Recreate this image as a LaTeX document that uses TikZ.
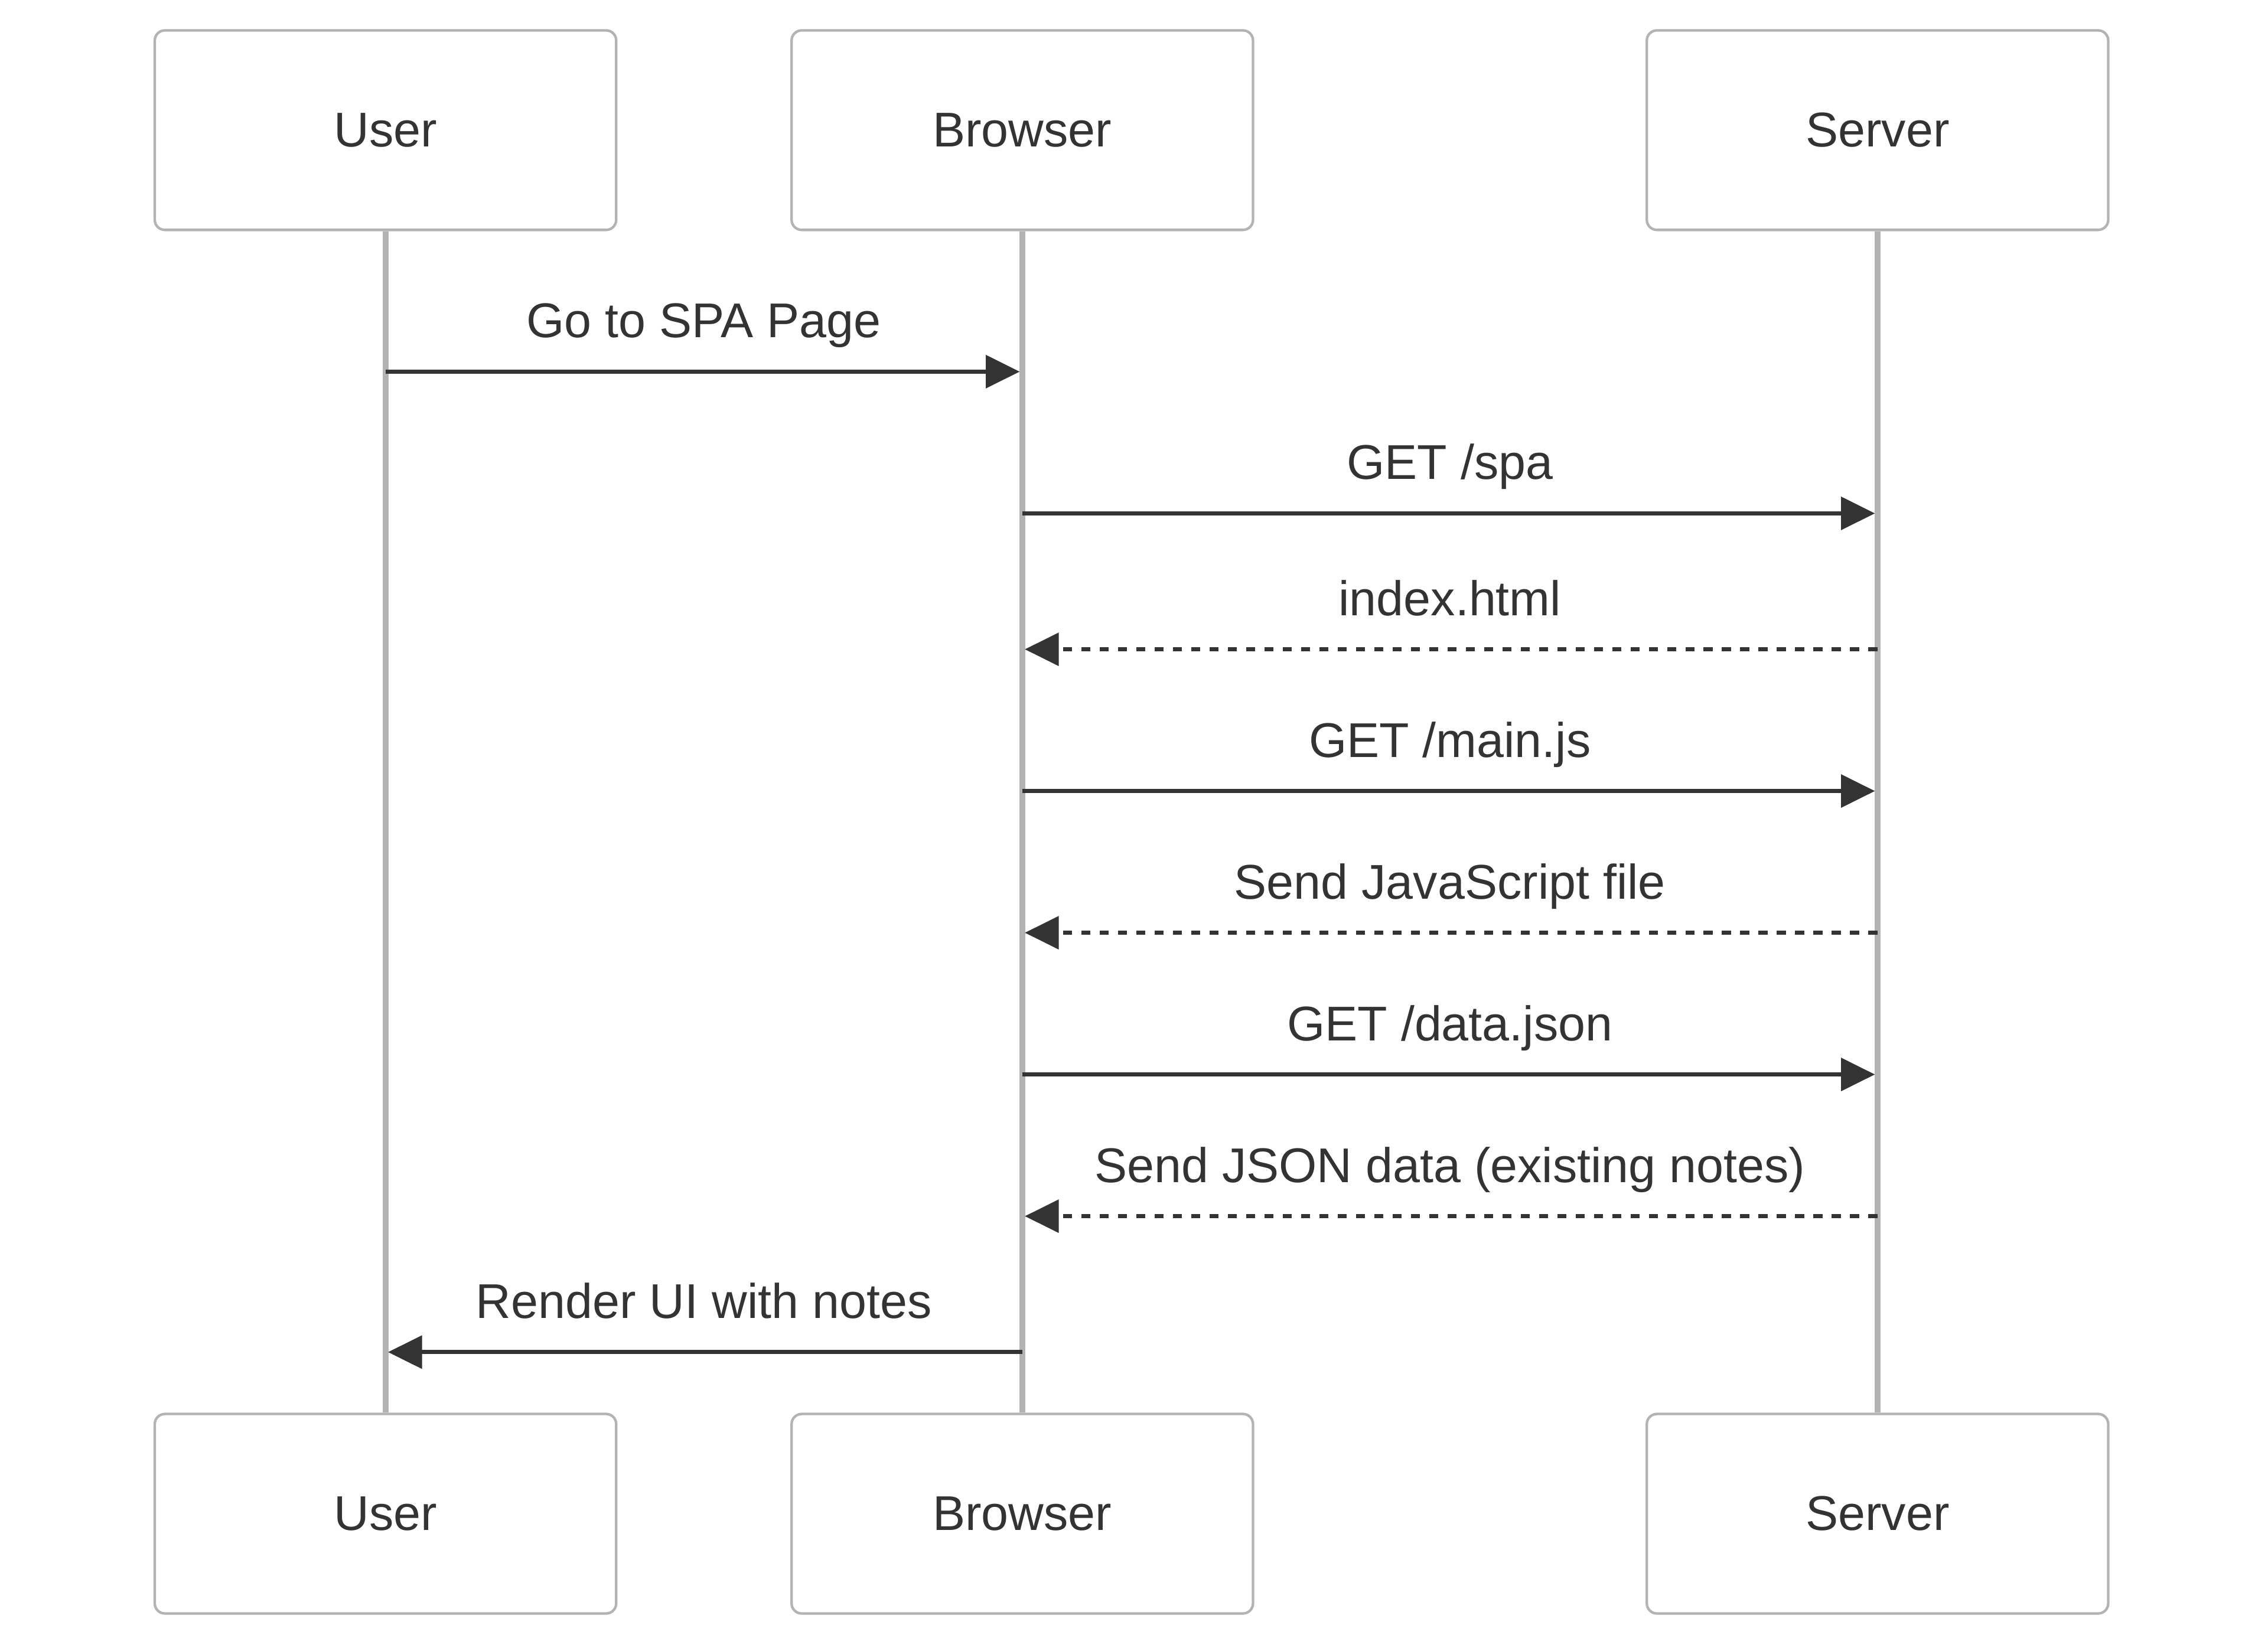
\documentclass[tikz,border=0pt]{standalone}
\usepackage{fontspec}
\setmainfont{Liberation Sans}
\usepackage{xcolor}
\usepackage{tikz}
\usetikzlibrary{arrows.meta, positioning}
\definecolor{lijngrijs}{HTML}{B3B3B3}
\definecolor{donker}{HTML}{333333}

\begin{document}
\begin{tikzpicture}[>={Triangle[length=4.7mm, width=4.5mm]},
        actor/.style={draw=lijngrijs, line width=1pt, rounded corners=1.4mm, minimum width=6.38cm, minimum height=2.76cm, text=donker, font=\fontsize{19.2}{23}\selectfont},
        life/.style={draw=lijngrijs, line width=2.4pt},
        msg/.style={->, draw=donker, line width=1.65pt, shorten >=1pt},
        reply/.style={msg, dash pattern=on 3.6pt off 3.6pt},
        lbl/.style={anchor=base, yshift=4.7mm, text=donker, font=\fontsize{19.2}{23}\selectfont}]
        \useasboundingbox (0,0) rectangle (31.36,-22.83);

        % Actoren
        \node[actor] (user) at (5.33,-1.8) {User};
        \node[actor, right=2.39cm of user] (browser) {Browser};
        \node[actor, right=5.41cm of browser] (server) {Server};
        \node[actor, below=16.34cm of user] (user2) {User};
        \node[actor, below=16.34cm of browser] (browser2) {Browser};
        \node[actor, below=16.34cm of server] (server2) {Server};

        % Levenslijnen
        \draw[life] (user) -- (user2);
        \draw[life] (browser) -- (browser2);
        \draw[life] (server) -- (server2);

        % Punten op de levenslijnen
        \foreach \y [count=\i] in {5.14, 7.10, 8.98, 10.94, 12.90, 14.86, 16.82, 18.70} {
            \coordinate (u\i) at (user |- 0,-\y);
            \coordinate (b\i) at (browser |- 0,-\y);
            \coordinate (s\i) at (server |- 0,-\y);
        }

        % Berichten
        \draw[msg] (u1) -- node[lbl] {Go to SPA Page} (b1);
        \draw[msg] (b2) -- node[lbl] {GET /spa} (s2);
        \draw[reply] (s3) -- node[lbl] {index.html} (b3);
        \draw[msg] (b4) -- node[lbl] {GET /main.js} (s4);
        \draw[reply] (s5) -- node[lbl] {Send JavaScript file} (b5);
        \draw[msg] (b6) -- node[lbl] {GET /data.json} (s6);
        \draw[reply] (s7) -- node[lbl] {Send JSON data (existing notes)} (b7);
        \draw[msg] (b8) -- node[lbl] {Render UI with notes} (u8);
    \end{tikzpicture}
\end{document}
